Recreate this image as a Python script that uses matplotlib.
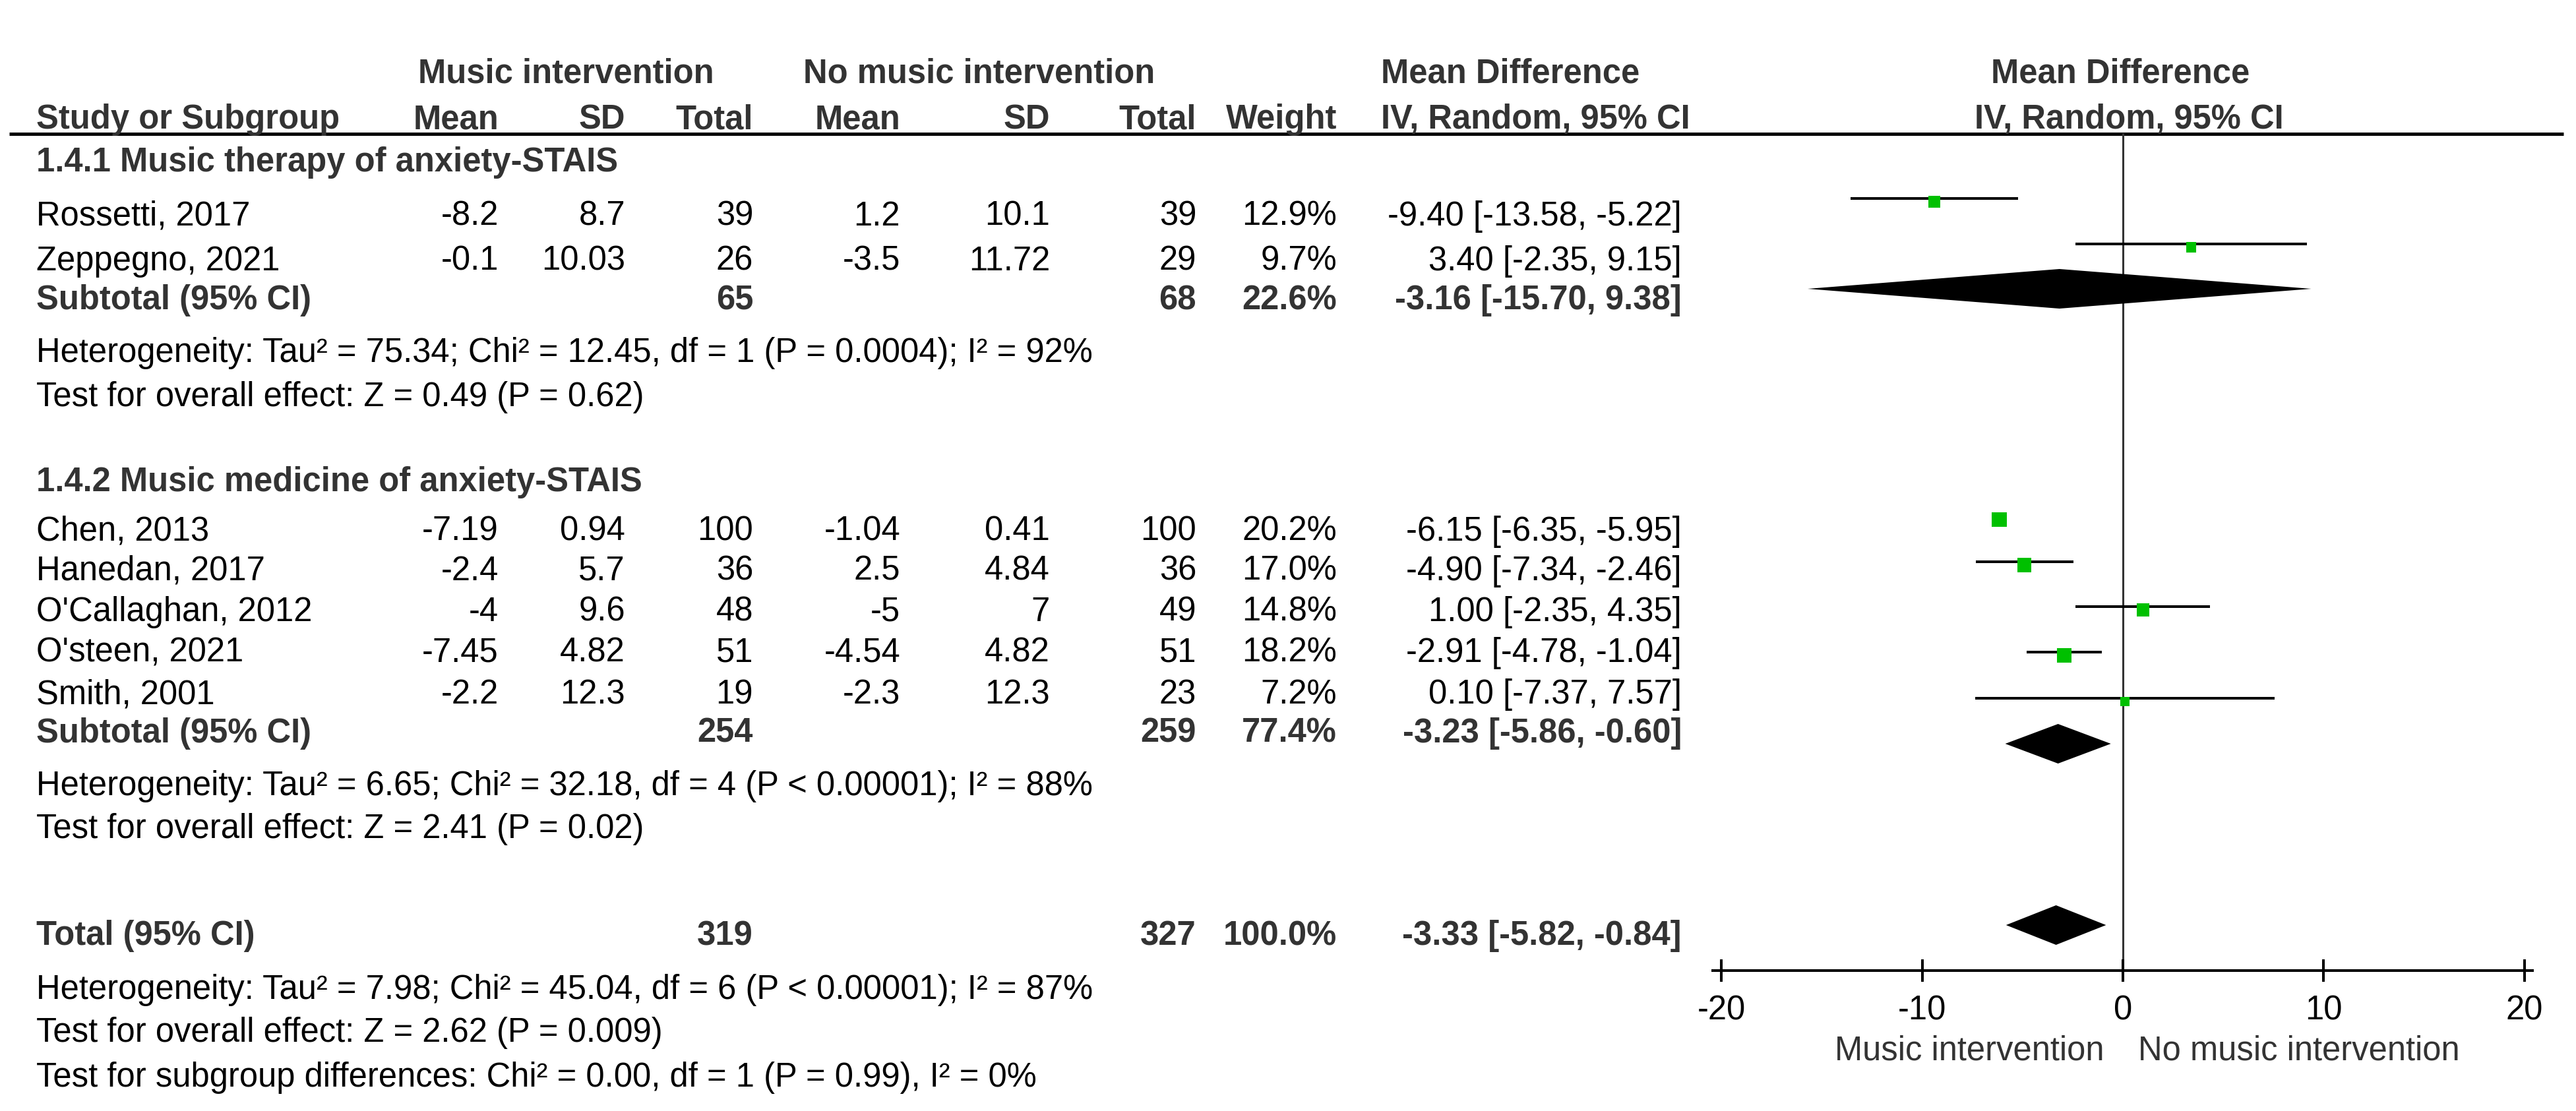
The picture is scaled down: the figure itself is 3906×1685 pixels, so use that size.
import matplotlib
matplotlib.use("Agg")
import matplotlib.pyplot as plt

plt.rcParams['font.family'] = ['Liberation Sans', 'DejaVu Sans']
plt.rcParams['axes.unicode_minus'] = False

# ---------------- data ----------------
studies = ["Rossetti, 2017", "Zeppegno, 2021", "Chen, 2013", "Hanedan, 2017",
           "O'Callaghan, 2012", "O'steen, 2021", "Smith, 2001"]
study_group = [0, 0, 1, 1, 1, 1, 1]
mean_music = [-8.2, -0.1, -7.19, -2.4, -4, -7.45, -2.2]
sd_music = [8.7, 10.03, 0.94, 5.7, 9.6, 4.82, 12.3]
n_music = [39, 26, 100, 36, 48, 51, 19]
mean_ctrl = [1.2, -3.5, -1.04, 2.5, -5, -4.54, -2.3]
sd_ctrl = [10.1, 11.72, 0.41, 4.84, 7, 4.82, 12.3]
n_ctrl = [39, 29, 100, 36, 49, 51, 23]
weight = [12.9, 9.7, 20.2, 17.0, 14.8, 18.2, 7.2]
md = [-9.40, 3.40, -6.15, -4.90, 1.00, -2.91, 0.10]
ci_lo = [-13.58, -2.35, -6.35, -7.34, -2.35, -4.78, -7.37]
ci_hi = [-5.22, 9.15, -5.95, -2.46, 4.35, -1.04, 7.57]

subgroups = ["1.4.1 Music therapy of anxiety-STAIS", "1.4.2 Music medicine of anxiety-STAIS"]
sub_n_music = [65, 254]
sub_n_ctrl = [68, 259]
sub_weight = [22.6, 77.4]
sub_md = [-3.16, -3.23]
sub_lo = [-15.70, -5.86]
sub_hi = [9.38, -0.60]
sub_het = ["Heterogeneity: Tau² = 75.34; Chi² = 12.45, df = 1 (P = 0.0004); I² = 92%",
           "Heterogeneity: Tau² = 6.65; Chi² = 32.18, df = 4 (P < 0.00001); I² = 88%"]
sub_test = ["Test for overall effect: Z = 0.49 (P = 0.62)",
            "Test for overall effect: Z = 2.41 (P = 0.02)"]

tot_n_music = 319
tot_n_ctrl = 327
tot_weight = 100.0
tot_md = -3.33
tot_lo = -5.82
tot_hi = -0.84
tot_notes = ["Heterogeneity: Tau² = 7.98; Chi² = 45.04, df = 6 (P < 0.00001); I² = 87%",
             "Test for overall effect: Z = 2.62 (P = 0.009)",
             "Test for subgroup differences: Chi² = 0.00, df = 1 (P = 0.99), I² = 0%"]

xticks = [-20, -10, 0, 10, 20]
left_label = "Music intervention"
right_label = "No music intervention"

# ---------------- layout (pixels) ----------------
W, H = 3906, 1685
FS = 36.5
BOLD_C = '#333333'
GREEN = '#00C000'

X_NAME = 55
X_MM, X_MSD, X_MN = 756, 948, 1142
X_CM, X_CSD, X_CN = 1365, 1592, 1814
X_W, X_CI = 2027, 2550
X_HDR_MD = 2094

study_base = [342, 410, 820, 880, 942, 1004, 1067]
study_plot_y = [301, 370, 783, 852, 920, 989, 1059]
sub_hdr_base = [260, 745]
sub_tot_base = [469, 1126]
sub_het_base = [549, 1206]
sub_test_base = [616, 1271]
sub_plot_y = [438, 1128]
tot_base = 1433
tot_plot_y = 1403
tot_notes_base = [1515, 1580, 1648]

fig = plt.figure(figsize=(W / 100, H / 100), dpi=100)
ax = fig.add_axes([0, 0, 1, 1])
ax.set_xlim(0, W)
ax.set_ylim(H, 0)
ax.axis('off')


def txt(x, y, s, ha='left', bold=False, color=None):
    ax.text(x, y, s, ha=ha, va='baseline', fontsize=FS,
            fontweight='bold' if bold else 'normal',
            color=color if color else (BOLD_C if bold else 'black'))


def fmt(v):
    return f"{v:g}"


def fci(m, lo, hi):
    return f"{m:.2f} [{lo:.2f}, {hi:.2f}]"


# headers
txt(858, 125, "Music intervention", ha='center', bold=True)
txt(1485, 125, "No music intervention", ha='center', bold=True)
txt(X_HDR_MD, 125, "Mean Difference", bold=True)
txt(3215, 125, "Mean Difference", ha='center', bold=True)
txt(X_NAME, 195, "Study or Subgroup", bold=True)
txt(X_MM, 195, "Mean", ha='right', bold=True)
txt(X_MSD, 195, "SD", ha='right', bold=True)
txt(X_MN, 195, "Total", ha='right', bold=True)
txt(X_CM, 195, "Mean", ha='right', bold=True)
txt(X_CSD, 195, "SD", ha='right', bold=True)
txt(X_CN, 195, "Total", ha='right', bold=True)
txt(X_W, 195, "Weight", ha='right', bold=True)
txt(X_HDR_MD, 195, "IV, Random, 95% CI", bold=True)
txt(3228, 195, "IV, Random, 95% CI", ha='center', bold=True)
ax.plot([14, 3887], [203, 203], color='black', lw=3.6, solid_capstyle='butt')

# study rows
for i, name in enumerate(studies):
    y = study_base[i]
    txt(X_NAME, y, name)
    txt(X_MM, y, fmt(mean_music[i]), ha='right')
    txt(X_MSD, y, fmt(sd_music[i]), ha='right')
    txt(X_MN, y, str(n_music[i]), ha='right')
    txt(X_CM, y, fmt(mean_ctrl[i]), ha='right')
    txt(X_CSD, y, fmt(sd_ctrl[i]), ha='right')
    txt(X_CN, y, str(n_ctrl[i]), ha='right')
    txt(X_W, y, f"{weight[i]:.1f}%", ha='right')
    txt(X_CI, y, fci(md[i], ci_lo[i], ci_hi[i]), ha='right')

for g, name in enumerate(subgroups):
    txt(X_NAME, sub_hdr_base[g], name, bold=True)
    y = sub_tot_base[g]
    txt(X_NAME, y, "Subtotal (95% CI)", bold=True)
    txt(X_MN, y, str(sub_n_music[g]), ha='right', bold=True)
    txt(X_CN, y, str(sub_n_ctrl[g]), ha='right', bold=True)
    txt(X_W, y, f"{sub_weight[g]:.1f}%", ha='right', bold=True)
    txt(X_CI, y, fci(sub_md[g], sub_lo[g], sub_hi[g]), ha='right', bold=True)
    txt(X_NAME, sub_het_base[g], sub_het[g])
    txt(X_NAME, sub_test_base[g], sub_test[g])

txt(X_NAME, tot_base, "Total (95% CI)", bold=True)
txt(X_MN, tot_base, str(tot_n_music), ha='right', bold=True)
txt(X_CN, tot_base, str(tot_n_ctrl), ha='right', bold=True)
txt(X_W, tot_base, f"{tot_weight:.1f}%", ha='right', bold=True)
txt(X_CI, tot_base, fci(tot_md, tot_lo, tot_hi), ha='right', bold=True)
for s, y in zip(tot_notes, tot_notes_base):
    txt(X_NAME, y, s)

# ---------------- forest plot ----------------
PX0, PX1 = 2597, 3840
axp = fig.add_axes([PX0 / W, 0, (PX1 - PX0) / W, 1])
axp.patch.set_alpha(0)
axp.set_xlim(-20.43, 20.4)
axp.set_ylim(H, 0)
for sp in ['top', 'left', 'right']:
    axp.spines[sp].set_visible(False)
AXIS_Y = 1472
axp.spines['bottom'].set_position(('data', AXIS_Y))
axp.spines['bottom'].set_linewidth(2.9)
axp.set_yticks([])
axp.set_xticks(xticks)
axp.set_xticklabels([str(t) for t in xticks])
axp.tick_params(axis='x', direction='inout', length=24.5, width=2.9,
                labelsize=FS, pad=14, colors='black')

axp.plot([0, 0], [203, AXIS_Y], color='#333333', lw=2.2, zorder=1)

for i in range(len(studies)):
    y = study_plot_y[i]
    axp.plot([ci_lo[i], ci_hi[i]], [y, y], color='black', lw=2.9,
             solid_capstyle='butt', zorder=2)
    side_pt = 5.1 * weight[i] ** 0.5 * 0.72
    axp.scatter([md[i]], [y + 5], marker='s', s=side_pt ** 2, color=GREEN,
                edgecolors='none', zorder=3)

HH = 30
for g in range(len(subgroups)):
    y = sub_plot_y[g]
    axp.fill([sub_lo[g], sub_md[g], sub_hi[g], sub_md[g]],
             [y, y - HH, y, y + HH], color='black', lw=0, zorder=3)
axp.fill([tot_lo, tot_md, tot_hi, tot_md],
         [tot_plot_y, tot_plot_y - HH, tot_plot_y, tot_plot_y + HH],
         color='black', lw=0, zorder=3)

txt(3190, 1607, left_label, ha='right', color=BOLD_C)
txt(3242, 1607, right_label, ha='left', color=BOLD_C)

fig.savefig("out.png", dpi=100)
